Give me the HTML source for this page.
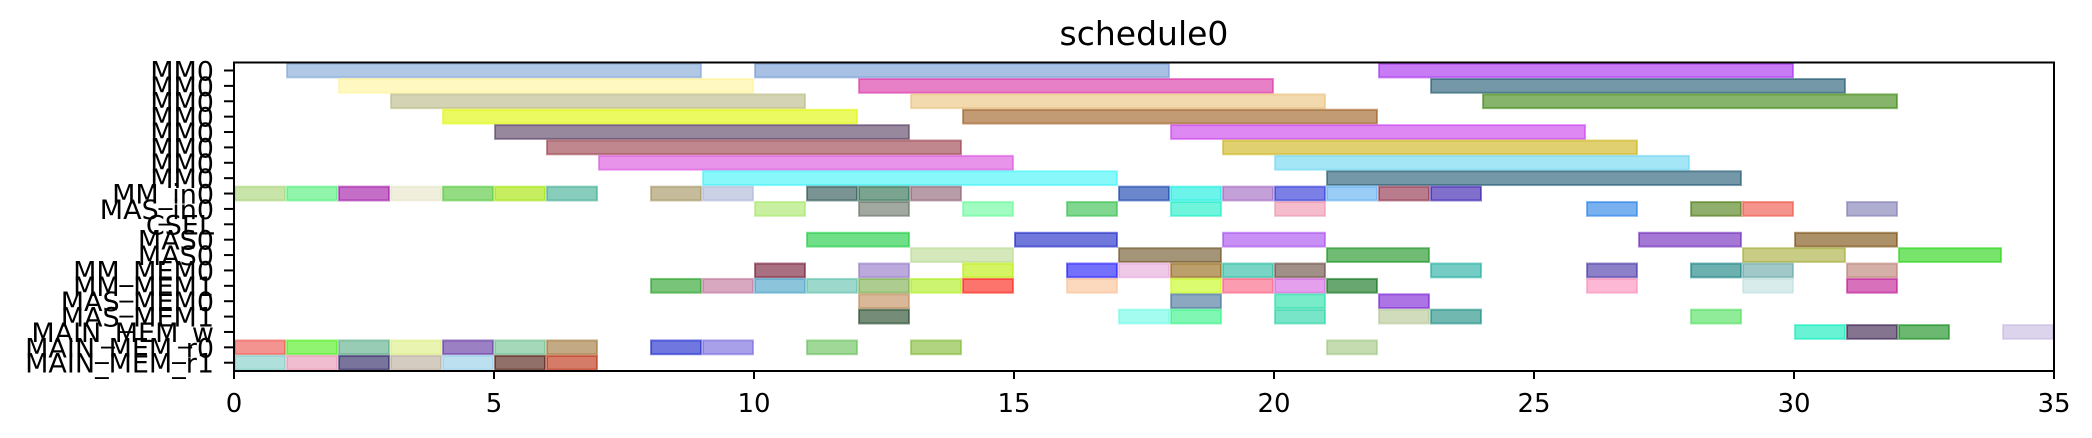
<!DOCTYPE html>
<html><head><meta charset="utf-8"><title>schedule0</title>
<style>html,body{margin:0;padding:0;background:#fff;}svg{display:block;}text{font-family:"DejaVu Sans","Liberation Sans",sans-serif;fill:#000;}</style>
</head><body>
<svg id="chart" width="2092" height="438" viewBox="0 0 2092 438" xmlns="http://www.w3.org/2000/svg">
<text x="1144" y="45" font-size="33" text-anchor="middle">schedule0</text>
<g id="bars"></g>
<g id="yaxis"></g>
<g id="xaxis"></g>
<rect x="234" y="62.5" width="1820" height="308.5" fill="none" stroke="#000" stroke-width="2"/>
</svg>
<script>
const rowLabels = ["MM0","MM0","MM0","MM0","MM0","MM0","MM0","MM0","MM_in0","MAS_in0","CSEL","MAS0","MAS0","MM_MEM0","MM_MEM1","MAS_MEM0","MAS_MEM1","MAIN_MEM_w","MAIN_MEM_r0","MAIN_MEM_r1"];
const xTicks = [0,5,10,15,20,25,30,35];
const taskRow = [0,0,0, 1,1,1, 2,2,2, 3,3, 4,4, 5,5, 6,6, 7,7,
 8,8,8,8,8,8,8,8,8,8,8,8,8,8,8,8,8,8,8,
 9,9,9,9,9,9,9,9,9,9,
 11,11,11,11,11,
 12,12,12,12,12,
 13,13,13,13,13,13,13,13,13,13,13,13,13,
 14,14,14,14,14,14,14,14,14,14,14,14,14,14,14,
 15,15,15,15,
 16,16,16,16,16,16,16,
 17,17,17,17,
 18,18,18,18,18,18,18,18,18,18,18,18,
 19,19,19,19,19,19,19];
const taskStart = [1,10,22, 2,12,23, 3,13,24, 4,14, 5,18, 6,19, 7,20, 9,21,
 0,1,2,3,4,5,6,8,9,11,12,13,17,18,19,20,21,22,23,
 10,12,14,16,18,20,26,28,29,31,
 11,15,19,27,30,
 13,17,21,29,32,
 10,12,14,16,17,18,19,20,23,26,28,29,31,
 8,9,10,11,12,13,14,16,18,19,20,21,26,29,31,
 12,18,20,22,
 12,17,18,20,22,23,28,
 30,31,32,34,
 0,1,2,3,4,5,6,8,9,11,13,21,
 0,1,2,3,4,5,6];
const taskEnd = [9,18,30, 10,20,31, 11,21,32, 12,22, 13,26, 14,27, 15,28, 17,29,
 1,2,3,4,5,6,7,9,10,12,13,14,18,19,20,21,22,23,24,
 11,13,15,17,19,21,27,29,30,32,
 13,17,21,29,32,
 15,19,23,31,34,
 11,13,15,17,18,19,20,21,24,27,29,30,32,
 9,10,11,12,13,14,15,17,19,20,21,22,27,30,32,
 13,19,21,23,
 13,18,19,21,23,24,29,
 31,32,33,35,
 1,2,3,4,5,6,7,9,10,12,14,22,
 1,2,3,4,5,6,7];
const taskColor = ["#b0c8e6","#a8c0e4","#c77cf5","#fff8c0","#e880c8","#7598a8","#d4d4b4","#f2d9ae","#86b46a","#ebfa60","#c29a74","#97889e","#de88f4","#c0888e","#e0d070","#e894ea","#a4e6f6","#88f8fa","#7598a8",
 "#c8e4a8","#90f4aa","#c46ec8","#f0eedc","#94dc84","#c6ee60","#88ccbc","#c6bc9c","#ccd2e6","#7a9494","#7aa490","#b89ca8","#6c88cc","#6cf4ea","#c4a0d8","#7c80e6","#9acdf6","#b87c8c","#8070cc",
 "#c8f0a0","#a0a8a0","#a0fcc0","#80d890","#70f4dc","#f4bccc","#78b0f0","#90ae6c","#f4948c","#b0aed0",
 "#70e088","#7078dc","#c890f4","#a478d4","#ac9068",
 "#d4e8bc","#a49478","#70bc74","#c8cc84","#78e46c",
 "#a87080","#bcaadc","#d4f464","#7470fc","#f0c8e8","#bca06c","#78d4c4","#a09088","#74ccc4","#8c80c8","#6cb0b0","#a0c8c8","#d4b0a8",
 "#78c478","#d8a8c0","#8cc4dc","#9cd8cc","#accc90","#ccf470","#fc746c","#fcd8bc","#dcfc70","#fc9cb0","#e4a0ec","#68a870","#fcb8d4","#d8ecec","#d870bc",
 "#d8b898","#8ca8c0","#78ecc8","#ac74e4",
 "#748c78","#a4fcf0","#80f8b4","#78e4c8","#d0dcbc","#70b8b0","#90ec98",
 "#68f4d4","#847490","#6cb870","#dcd4ec",
 "#f49490","#90f470","#98ccb4","#e8f4b0","#9c80c4","#a4d8b8","#c4aa84","#7078e0","#a8a0e8","#a0d898","#b0d480","#c4dcb0",
 "#b0e0dc","#f0bcd0","#78749c","#d4ccc0","#bce0f0","#907068","#d47c68"];

const NS = "http://www.w3.org/2000/svg";
const X0 = 234, XS = 52.0;
const Y0 = 70.5, YS = 15.38, BH = 15.8;
function xScale(t){ return X0 + XS * t; }
function yScale(r){ return Y0 + YS * r; }
function darker(hex){
  const v=[1,3,5].map(i=>parseInt(hex.substr(i,2),16));
  const b=v.map(c=>Math.max(0,Math.min(255,Math.round((c-102)/0.6))));
  return "rgb("+b.join(",")+")";
}
const bars = document.getElementById("bars");
for (let i=0;i<taskRow.length;i++){
  const r=document.createElementNS(NS,"rect");
  const x1=xScale(taskStart[i]), x2=xScale(taskEnd[i]);
  r.setAttribute("x", x1+1);
  r.setAttribute("y", yScale(taskRow[i])-BH/2+1);
  r.setAttribute("width", Math.max(0,x2-x1-2));
  r.setAttribute("height", BH-2);
  r.setAttribute("fill", taskColor[i]);
  r.setAttribute("stroke", darker(taskColor[i]));
  r.setAttribute("stroke-opacity", "0.55");
  r.setAttribute("stroke-width", "2");
  
  
  bars.appendChild(r);
}
const ya=document.getElementById("yaxis");
rowLabels.forEach((lab,i)=>{
  const y=yScale(i);
  const tk=document.createElementNS(NS,"line");
  tk.setAttribute("x1",224); tk.setAttribute("x2",234);
  tk.setAttribute("y1",y); tk.setAttribute("y2",y);
  tk.setAttribute("stroke","#000"); tk.setAttribute("stroke-width","2");
  
  
  ya.appendChild(tk);
  const t=document.createElementNS(NS,"text");
  t.setAttribute("x",214); t.setAttribute("y",y+10);
  t.setAttribute("font-size","27"); t.setAttribute("text-anchor","end");
  t.textContent=lab;
  
  
  ya.appendChild(t);
});
const xa=document.getElementById("xaxis");
xTicks.forEach(v=>{
  const x=xScale(v);
  const tk=document.createElementNS(NS,"line");
  tk.setAttribute("x1",x); tk.setAttribute("x2",x);
  tk.setAttribute("y1",371); tk.setAttribute("y2",379);
  tk.setAttribute("stroke","#000"); tk.setAttribute("stroke-width","2");
  
  
  xa.appendChild(tk);
  const t=document.createElementNS(NS,"text");
  t.setAttribute("x",x); t.setAttribute("y",412);
  t.setAttribute("font-size","26"); t.setAttribute("text-anchor","middle");
  t.textContent=String(v);
  
  
  xa.appendChild(t);
});
</script>
</body></html>
